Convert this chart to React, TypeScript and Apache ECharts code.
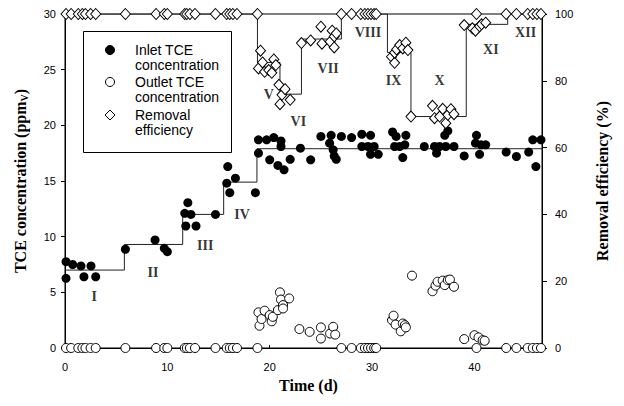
import React, { useEffect, useRef } from "react";
import * as echarts from "echarts";

// Inlet TCE concentration (ppmV)
const inletDays = [0.1,0.1,0.75,1.56,1.85,2.54,3.0,5.9,8.8,9.7,10.0,11.7,11.8,12.0,12.3,12.8,14.7,15.8,15.9,16.1,16.65,18.6,18.9,18.9,19.7,20.0,20.4,20.8,21.1,21.1,21.4,22.0,23.0,24.0,25.0,25.85,26.0,26.2,26.3,26.5,27.0,28.0,29.0,29.0,29.6,29.85,29.85,30.2,30.6,32.0,32.2,32.35,32.7,33.0,33.2,33.3,35.1,36.1,36.3,36.6,37.1,37.4,37.2,38.0,39.0,40.1,40.2,40.5,40.65,41.1,43.1,44.1,45.3,45.7,46.0,46.5];
const inletPpm = [7.75,6.26,7.5,7.37,6.4,7.37,6.4,8.87,9.7,8.95,8.65,12.1,10.96,13.05,12.0,10.96,12.0,14.8,16.3,13.95,15.25,13.95,18.7,17.5,18.7,16.9,18.9,16.4,18.6,18.1,16.0,16.95,17.95,16.9,19.0,18.4,19.1,17.8,17.25,16.95,19.0,18.9,19.2,18.1,18.1,19.1,17.4,18.1,17.4,19.4,18.1,19.0,18.1,17.1,18.25,19.1,18.1,18.1,17.5,18.1,19.1,19.5,18.1,18.1,17.25,18.4,19.1,17.4,18.25,18.25,17.6,17.2,17.6,18.7,16.3,18.7];

// Days with complete removal (outlet 0 ppmV, efficiency 100 %)
const cleanDays = [0.1,0.6,1.3,1.7,2.0,2.5,3.0,5.9,8.9,9.7,10.0,11.7,11.9,12.2,12.7,14.7,15.8,16.1,16.4,16.8,18.8,27.0,28.0,28.9,29.3,29.6,29.9,30.2,30.4,40.2,43.1,44.1,45.2,45.7,46.1,46.5];

// Outlet TCE concentration (ppmV), non-zero
const outletDays = [18.9,19.0,19.2,19.5,20.0,20.2,20.3,20.8,21.0,21.1,21.3,21.3,21.9,22.9,23.9,25.0,25.0,25.9,26.2,26.4,31.95,32.1,32.3,32.8,33.0,33.2,33.3,33.9,35.9,36.2,36.4,36.9,37.1,37.4,37.6,38.0,39.0,40.0,40.4,40.8,41.0];
const outletPpm = [3.2,2.0,2.6,3.35,2.95,2.4,2.8,3.4,5.0,4.35,3.85,3.55,4.45,1.7,1.45,1.85,0.85,1.3,1.9,1.2,2.5,2.9,2.1,1.5,2.2,2.05,1.85,6.5,5.1,5.6,5.95,6.05,5.65,6.1,6.15,5.5,0.8,1.15,0.95,0.7,0.65];

// Removal efficiency (%), below 100
const removalDays = [18.9,19.1,19.3,19.5,19.9,20.2,20.4,20.6,20.9,21.0,21.2,21.5,22.0,23.1,24.0,25.0,25.1,25.9,26.1,26.3,26.3,26.5,31.9,32.2,32.2,32.4,32.7,33.0,33.3,33.5,33.8,35.9,36.1,36.6,36.9,37.2,37.4,37.7,38.0,39.0,39.8,40.1,40.5,40.7,41.1];
const removalPct = [83.7,89.0,85.5,82.7,83.2,82.4,86.4,84.7,78.8,73.0,75.8,77.5,74.3,91.3,92.1,96.2,91.1,91.7,95.0,93.3,90.0,94.2,87.2,85.4,88.4,89.4,90.7,89.7,91.4,89.2,69.3,72.5,68.8,69.3,71.6,67.3,69.8,71.5,70.0,96.7,95.7,95.0,96.3,96.9,97.4];

// Step lines (phase boundaries and levels)
const inletStepDays = [0, 5.8, 11.5, 15.5, 18.75, 46.6];
const inletStepLevels = [7.0, 9.3, 12.0, 14.9, 17.9];
const removalStepDays = [0, 18.8, 21.0, 23.1, 27.0, 31.5, 33.8, 39.2, 43.25, 46.6];
const removalStepLevels = [100, 85.5, 76, 92.5, 100, 88.5, 69.3, 96.9, 100];

// Phase labels
const phaseNames = ["I","II","III","IV","V","VI","VII","VIII","IX","X","XI","XII"];
const phaseDays = [2.85, 8.6, 13.7, 17.3, 19.9, 22.8, 25.7, 29.6, 32.1, 36.6, 41.6, 45.0];
const phasePpm = [4.6, 6.75, 9.25, 12.0, 22.8, 20.3, 25.1, 28.3, 24.0, 24.0, 26.8, 28.3];

const xTicks = [0, 10, 20, 30, 40];

function stepPath(days: number[], levels: number[]) {
  const pts: number[][] = [];
  for (let i = 0; i < levels.length; i++) {
    pts.push([days[i], levels[i]]);
    pts.push([days[i + 1], levels[i]]);
  }
  return pts;
}

const SANS = '"Liberation Sans", Arial, sans-serif';
const SERIF = '"Liberation Serif", "Times New Roman", serif';

export default function App() {
  const ref = useRef<HTMLDivElement>(null);
  useEffect(() => {
    document.body.style.margin = "0";
    const chart = echarts.init(ref.current!, null, { renderer: "svg" });
    const legendText = (t: string, x: number, y: number) => ({
      type: "text",
      x,
      y,
      style: { text: t, font: `14px ${SANS}`, fill: "#000", verticalAlign: "middle", textVerticalAlign: "middle" },
    });
    chart.setOption({
      animation: false,
      backgroundColor: "#fff",
      grid: { left: 65, right: 82, top: 14, bottom: 58, show: true, borderColor: "#000", borderWidth: 1 },
      xAxis: {
        type: "value",
        min: 0,
        max: 46.6,
        interval: 10,
        name: "Time (d)",
        nameLocation: "middle",
        nameGap: 29,
        nameTextStyle: { fontFamily: SERIF, fontWeight: "bold", fontSize: 16, color: "#000", padding: [0, 0, 0, 10] },
        axisLine: { show: true, lineStyle: { color: "#000", width: 1 } },
        axisTick: { show: true, inside: true, length: 3, lineStyle: { color: "#000" } },
        splitLine: { show: false },
        axisLabel: {
          fontFamily: SANS,
          fontSize: 11,
          color: "#000",
          margin: 13,
          formatter: (v: number) => (xTicks.indexOf(v) >= 0 ? String(v) : ""),
        },
      },
      yAxis: [
        {
          type: "value",
          min: 0,
          max: 30,
          interval: 5,
          position: "left",
          name: "{a|TCE concentration (ppm}{s|V}{a|)}",
          nameLocation: "middle",
          nameRotate: 90,
          nameGap: 36,
          nameTextStyle: {
            rich: {
              a: { fontFamily: SERIF, fontWeight: "bold", fontSize: 16, color: "#000" },
              s: { fontFamily: SERIF, fontWeight: "bold", fontSize: 10, color: "#000", verticalAlign: "bottom", padding: [8, 0, 0, 0] },
            },
          },
          axisLine: { show: true, lineStyle: { color: "#000", width: 1 } },
          axisTick: { show: true, length: 4, lineStyle: { color: "#000" } },
          splitLine: { show: false },
          axisLabel: { fontFamily: SANS, fontSize: 11, color: "#000", margin: 9 },
        },
        {
          type: "value",
          min: 0,
          max: 100,
          interval: 20,
          position: "right",
          name: "Removal efficiency (%)",
          nameLocation: "middle",
          nameRotate: 90,
          nameGap: 52,
          nameTextStyle: { fontFamily: SERIF, fontWeight: "bold", fontSize: 16, color: "#000" },
          axisLine: { show: true, lineStyle: { color: "#000", width: 1 } },
          axisTick: { show: true, length: 5, lineStyle: { color: "#000" } },
          splitLine: { show: false },
          axisLabel: { fontFamily: SANS, fontSize: 11, color: "#000", margin: 13 },
        },
      ],
      graphic: [
        { type: "rect", shape: { x: 83.5, y: 31.5, width: 148, height: 121 }, style: { fill: "#fff", stroke: "#000", lineWidth: 1 }, z: 10 },
        { type: "circle", shape: { cx: 110, cy: 50, r: 4.5 }, style: { fill: "#000", stroke: "#000" }, z: 11 },
        { ...legendText("Inlet TCE", 135, 50), z: 11 },
        { ...legendText("concentration", 135, 65), z: 11 },
        { type: "circle", shape: { cx: 110, cy: 82, r: 4.5 }, style: { fill: "#fff", stroke: "#000", lineWidth: 1 }, z: 11 },
        { ...legendText("Outlet TCE", 135, 82), z: 11 },
        { ...legendText("concentration", 135, 97), z: 11 },
        { type: "polygon", shape: { points: [[110, 110], [115, 115], [110, 120], [105, 115]] }, style: { fill: "#fff", stroke: "#000", lineWidth: 1 }, z: 11 },
        { ...legendText("Removal", 135, 115), z: 11 },
        { ...legendText("efficiency", 135, 130), z: 11 },
      ],
      series: [
        {
          type: "line",
          yAxisIndex: 0,
          data: stepPath(inletStepDays, inletStepLevels),
          symbol: "none",
          lineStyle: { color: "#222", width: 1 },
          z: 1,
        },
        {
          type: "line",
          yAxisIndex: 1,
          data: stepPath(removalStepDays, removalStepLevels),
          symbol: "none",
          lineStyle: { color: "#222", width: 1 },
          z: 1,
        },
        {
          name: "Inlet TCE concentration",
          type: "scatter",
          yAxisIndex: 0,
          clip: false,
          data: inletDays.map((d, i) => [d, inletPpm[i]]),
          symbol: "circle",
          symbolSize: 9,
          itemStyle: { color: "#000", opacity: 1 },
          z: 3,
        },
        {
          name: "Outlet TCE concentration",
          type: "scatter",
          yAxisIndex: 0,
          clip: false,
          data: cleanDays.map((d) => [d, 0]).concat(outletDays.map((d, i) => [d, outletPpm[i]])),
          symbol: "circle",
          symbolSize: 9,
          itemStyle: { color: "#fff", borderColor: "#000", borderWidth: 1, opacity: 1 },
          z: 4,
        },
        {
          name: "Removal efficiency",
          type: "scatter",
          yAxisIndex: 1,
          clip: false,
          data: cleanDays.map((d) => [d, 100]).concat(removalDays.map((d, i) => [d, removalPct[i]])),
          symbol: "diamond",
          symbolSize: [10, 11],
          itemStyle: { color: "#fff", borderColor: "#000", borderWidth: 1, opacity: 1 },
          z: 5,
        },
        {
          type: "scatter",
          yAxisIndex: 0,
          clip: false,
          data: phaseNames.map((n, i) => ({ name: n, value: [phaseDays[i], phasePpm[i]] })),
          symbolSize: 1,
          itemStyle: { color: "rgba(0,0,0,0)" },
          label: {
            show: true,
            position: "inside",
            formatter: "{b}",
            fontFamily: SERIF,
            fontWeight: "bold",
            fontSize: 14,
            color: "#000",
          },
          z: 6,
        },
      ],
    });
    return () => chart.dispose();
  }, []);
  return <div ref={ref} style={{ width: 624, height: 406 }} />;
}
